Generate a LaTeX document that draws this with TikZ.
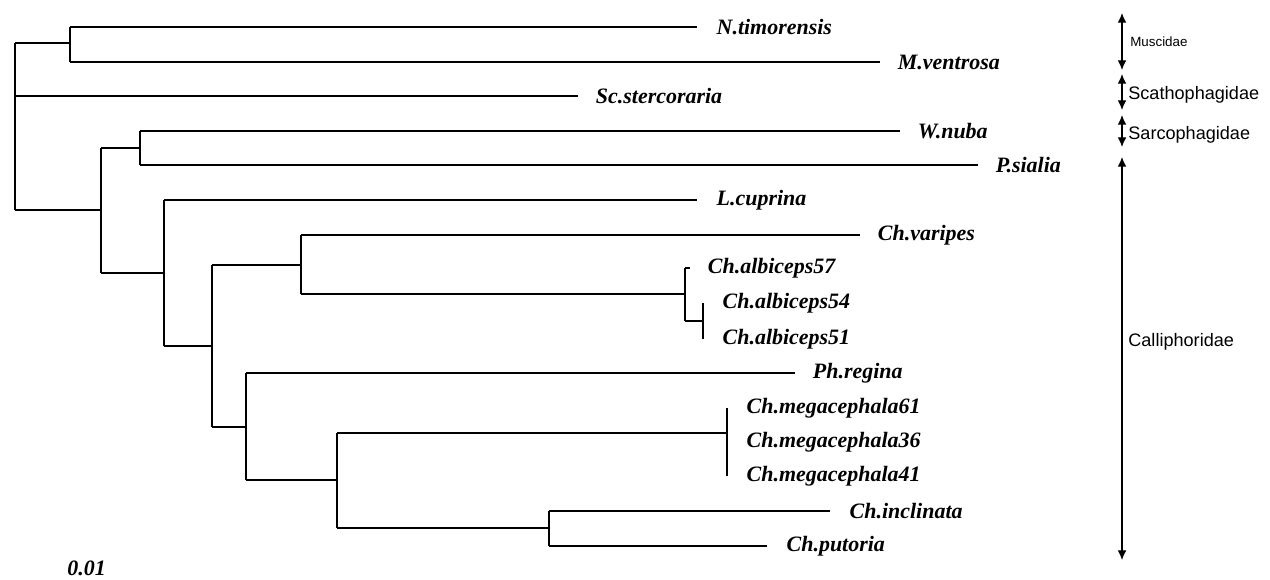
\documentclass[tikz,border=0pt]{standalone}
\usepackage{fontspec}
\setmainfont{Liberation Serif}
\newfontfamily\famfont{Liberation Sans}
\usetikzlibrary{positioning,arrows.meta}

\tikzset{
  branch/.style={line width=1.4pt},
  thinbranch/.style={line width=0.8pt},
  taxon/.style={font=\fontsize{12.5}{15}\selectfont\bfseries\itshape, inner sep=0pt, anchor=west},
  family/.style={font=\famfont\fontsize{10.3}{12}\selectfont, inner sep=0pt, anchor=west},
  famarrow/.style={line width=0.7pt, {Latex[length=5.5pt,width=5pt]}-{Latex[length=5.5pt,width=5pt]}}
}

\begin{document}
\begin{tikzpicture}[x=0.02cm, y=-0.02cm]
    \useasboundingbox (0,0) rectangle (1270,579);

    % internal nodes
    \coordinate (root) at (15,127);
    \coordinate (mus)  at (70,43);
    \coordinate (n1)   at (101,210);
    \coordinate (sarc) at (140,148);
    \coordinate (n2)   at (164,273);
    \coordinate (n3)   at (212,346);
    \coordinate (n4)   at (301,265);
    \coordinate (alb)  at (685,294);
    \coordinate (alb2) at (703,321);
    \coordinate (n5)   at (246,427);
    \coordinate (n6)   at (337,480);
    \coordinate (meg)  at (727,433);
    \coordinate (n7)   at (549,528);

    % branch tips
    \coordinate (e-ntim)  at (697,27);
    \coordinate (e-mven)  at (880,62);
    \coordinate (e-scst)  at (578,96);
    \coordinate (e-wnub)  at (900,131);
    \coordinate (e-psia)  at (978,165);
    \coordinate (e-lcup)  at (697,200);
    \coordinate (e-cvar)  at (860,235);
    \coordinate (e-alb57) at (690,268);
    \coordinate (e-alb54) at (703,303);
    \coordinate (e-alb51) at (703,339);
    \coordinate (e-preg)  at (795,373);
    \coordinate (e-meg61) at (727,408);
    \coordinate (e-meg36) at (727,442);
    \coordinate (e-meg41) at (727,476);
    \coordinate (e-cinc)  at (830,511);
    \coordinate (e-cput)  at (767,546);

    % taxa
    \node[taxon, right=11pt of e-ntim]  (ntim)  {N.timorensis};
    \node[taxon, right=10pt of e-mven]  (mven)  {M.ventrosa};
    \node[taxon, right=10pt of e-scst]  (scst)  {Sc.stercoraria};
    \node[taxon, right=10pt of e-wnub]  (wnub)  {W.nuba};
    \node[taxon, right=10pt of e-psia]  (psia)  {P.sialia};
    \node[taxon, right=11pt of e-lcup]  (lcup)  {L.cuprina};
    \node[taxon, right=10pt of e-cvar]  (cvar)  {Ch.varipes};
    \node[taxon, right=10pt of e-alb57] (alb57) {Ch.albiceps57};
    \node[taxon, right=11pt of e-alb54] (alb54) {Ch.albiceps54};
    \node[taxon, right=11pt of e-alb51] (alb51) {Ch.albiceps51};
    \node[taxon, right=10pt of e-preg]  (preg)  {Ph.regina};
    \node[taxon, right=11pt of e-meg61] (meg61) {Ch.megacephala61};
    \node[taxon, right=11pt of e-meg36] (meg36) {Ch.megacephala36};
    \node[taxon, right=11pt of e-meg41] (meg41) {Ch.megacephala41};
    \node[taxon, right=11pt of e-cinc]  (cinc)  {Ch.inclinata};
    \node[taxon, right=11pt of e-cput]  (cput)  {Ch.putoria};

    % verticals
    \draw[branch] (root |- mus) -- (root |- n1);
    \draw[branch] (mus |- e-ntim) -- (mus |- e-mven);
    \draw[branch] (n1 |- sarc) -- (n1 |- n2);
    \draw[branch] (sarc |- e-wnub) -- (sarc |- e-psia);
    \draw[branch] (n2 |- e-lcup) -- (n2 |- n3);
    \draw[branch] (n3 |- n4) -- (n3 |- n5);
    \draw[branch] (n4 |- e-cvar) -- (n4 |- alb);
    \draw[branch] (alb |- e-alb57) -- (alb |- alb2);
    \draw[branch] (e-alb54) -- (e-alb51);
    \draw[branch] (n5 |- e-preg) -- (n5 |- n6);
    \draw[branch] (n6 |- meg) -- (n6 |- n7);
    \draw[branch] (e-meg61) -- (e-meg41);
    \draw[branch] (n7 |- e-cinc) -- (n7 |- e-cput);

    % horizontals
    \draw[branch] (root |- mus) -- (mus);
    \draw[branch] (root |- e-scst) -- (e-scst);
    \draw[thinbranch] (root |- n1) -- (n1);
    \draw[branch] (mus |- e-ntim) -- (e-ntim);
    \draw[branch] (mus |- e-mven) -- (e-mven);
    \draw[thinbranch] (n1 |- sarc) -- (sarc);
    \draw[branch] (n1 |- n2) -- (n2);
    \draw[branch] (sarc |- e-wnub) -- (e-wnub);
    \draw[branch] (sarc |- e-psia) -- (e-psia);
    \draw[branch] (n2 |- e-lcup) -- (e-lcup);
    \draw[thinbranch] (n2 |- n3) -- (n3);
    \draw[branch] (n3 |- n4) -- (n4);
    \draw[branch] (n3 |- n5) -- (n5);
    \draw[branch] (n4 |- e-cvar) -- (e-cvar);
    \draw[thinbranch] (n4 |- alb) -- (alb);
    \draw[branch] (alb |- e-alb57) -- (e-alb57);
    \draw[branch] (alb |- alb2) -- (alb2);
    \draw[thinbranch] (n5 |- e-preg) -- (e-preg);
    \draw[branch] (n5 |- n6) -- (n6);
    \draw[branch] (n6 |- meg) -- (meg);
    \draw[branch] (n6 |- n7) -- (n7);
    \draw[branch] (n7 |- e-cinc) -- (e-cinc);
    \draw[branch] (n7 |- e-cput) -- (e-cput);

    % families
    \coordinate (f0)  at (1122,13);
    \coordinate (f1)  at (1122,70);
    \coordinate (f1b) at (1122,74);
    \coordinate (f2)  at (1122,110);
    \coordinate (f2b) at (1122,115);
    \coordinate (f3)  at (1122,147);
    \coordinate (f3b) at (1122,157);
    \coordinate (f4)  at (1122,560);
    \draw[famarrow] (f0) -- (f1);
    \draw[famarrow] (f1b) -- (f2);
    \draw[famarrow] (f2b) -- (f3);
    \draw[famarrow] (f3b) -- (f4);
    \node[family, font=\famfont\fontsize{7.6}{9}\selectfont] (muscidae) at (1130,42) {Muscidae};
    \node[family] (scatho) at (1128,95) {Scathophagidae};
    \node[family] (sarco) at (1128,135) {Sarcophagidae};
    \node[family] (calli) at (1128,342) {Calliphoridae};

    % scale
    \node[taxon] (scale) at (67,568) {0.01};
\end{tikzpicture}
\end{document}
